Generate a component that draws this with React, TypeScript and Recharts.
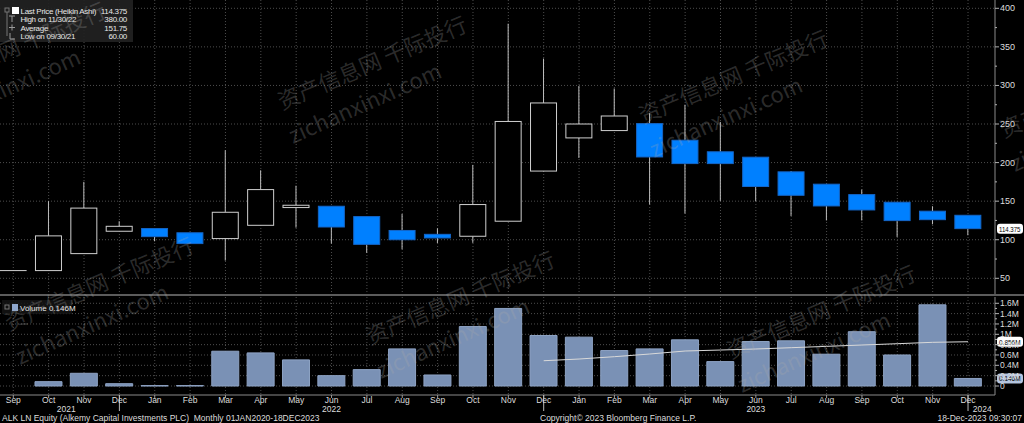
import React from 'react';
import { ComposedChart, Bar, Line, XAxis, YAxis, CartesianGrid, ReferenceLine } from 'recharts';

const FONT = "'Liberation Sans Narrow', 'Liberation Sans', Arial, sans-serif";

// Monthly Heikin Ashi candles, Sep 2021 .. Dec 2023
const months = ['Sep', 'Oct', 'Nov', 'Dec', 'Jan', 'Feb', 'Mar', 'Apr', 'May', 'Jun', 'Jul', 'Aug', 'Sep', 'Oct', 'Nov', 'Dec',
  'Jan', 'Feb', 'Mar', 'Apr', 'May', 'Jun', 'Jul', 'Aug', 'Sep', 'Oct', 'Nov', 'Dec'];
const opens = [60, 60, 82, 111, 114.5, 109, 101.5, 118.7, 141.7, 143.4, 130, 112, 107, 104.5, 124, 189,
  232, 241.5, 250.5, 229, 214, 207, 188, 172, 158.5, 148.6, 137, 131.7];
const closes = [60, 105, 141, 117.4, 104, 95, 135.6, 165, 144.7, 116.5, 94, 100, 102.3, 145.6, 253.3, 277.3,
  250, 260.4, 207.3, 198.7, 198.7, 169, 157.6, 143.8, 138.6, 124.8, 126, 114.375];
const highs = [60, 150, 175, 124, 114.5, 109, 216, 190, 170, 143.4, 130, 133.4, 114.8, 197, 380, 334.8,
  299.4, 296, 264, 275, 252.7, 207, 189, 172.3, 165, 148.6, 143.4, 131.7];
const lows = [60, 60, 82.4, 111.4, 98, 95, 73, 118.7, 115.7, 95, 83, 87.6, 95.8, 96, 124.3, 188.7,
  206, 241.5, 145.6, 134, 150.3, 150, 130.8, 125, 125, 103.6, 120, 105.8];

// volume in millions
const volumes = [0, 0.084, 0.246, 0.045, 0.008, 0.008, 0.673, 0.64, 0.505, 0.2, 0.317, 0.718, 0.213, 1.15, 1.5, 0.977,
  0.945, 0.686, 0.718, 0.893, 0.472, 0.861, 0.874, 0.615, 1.05, 0.6, 1.57, 0.146];
const volumeAvg = [null, null, null, null, null, null, null, null, null, null, null, null, null, null, null, 0.489,
  0.522, 0.567, 0.619, 0.677, 0.696, 0.716, 0.741, 0.767, 0.793, 0.818, 0.845, 0.856];

const priceTicks = [50, 100, 150, 200, 250, 300, 350, 400];
const priceMinor = [75, 125, 175, 225, 275, 325, 375];
const volTicks = [0, 0.2, 0.4, 0.6, 0.8, 1, 1.2, 1.4, 1.6];
const volMinor = [0.1, 0.3, 0.5, 0.7, 0.9, 1.1, 1.3, 1.5];
const yearMarks = [
  { at: 1.5, label: '2021' },
  { at: 9, label: '2022' },
  { at: 21, label: '2023' },
  { at: 27.4, label: '2024' },
];

const X_DOMAIN = [-0.376, 27.763];
const idx = months.map((_, i) => i);

const rows = months.map((m, i) => ({
  i,
  m,
  open: opens[i],
  close: closes[i],
  high: highs[i],
  low: lows[i],
  range: [lows[i], highs[i]],
  vol: volumes[i],
  ma: volumeAvg[i],
}));

const Candle = (props: any) => {
  const { x, y, width, height, payload } = props;
  const { open, close, high, low } = payload;
  const span = high - low;
  const k = span > 0 ? height / span : 0;
  const py = (v: number) => y + (high - v) * k;
  const cx = x + width / 2;
  const top = py(Math.max(open, close));
  const bot = py(Math.min(open, close));
  const up = close >= open;
  return (
    <g>
      {py(high) < top && <line x1={cx} x2={cx} y1={py(high)} y2={top} stroke="#bdbdbd" />}
      {py(low) > bot && <line x1={cx} x2={cx} y1={bot} y2={py(low)} stroke="#bdbdbd" />}
      {bot - top < 1 ? (
        <line x1={x} x2={x + width} y1={top} y2={top} stroke="#cfcfcf" />
      ) : up ? (
        <rect x={x + 0.5} y={top} width={width - 1} height={bot - top} fill="#000" stroke="#cfcfcf" />
      ) : (
        <rect x={x + 0.5} y={top} width={width - 1} height={bot - top} fill="#0080ff" stroke="#1466c8" />
      )}
    </g>
  );
};

const PriceTick = (props: any) => {
  const { x, y, payload } = props;
  const major = payload.value % 50 === 0;
  return (
    <g>
      <line x1={x} x2={x + (major ? 4 : 2)} y1={y} y2={y} stroke="#b0b0b0" />
      {major && (
        <text x={x + 5} y={y + 3} fill="#dddddd" fontSize={9} fontFamily={FONT}>{payload.value}</text>
      )}
    </g>
  );
};

const VolTick = (props: any) => {
  const { x, y, payload } = props;
  const v = payload.value;
  const major = Math.round(v * 10) % 2 === 0;
  const label = v === 0 ? '0' : v === 1 ? '1M' : `${v.toFixed(1)}M`;
  return (
    <g>
      <line x1={x} x2={x + (major ? 4 : 2)} y1={y} y2={y} stroke="#b0b0b0" />
      {major && (
        <text x={x + 5} y={y + 3} fill="#dddddd" fontSize={8.5} fontFamily={FONT}>{label}</text>
      )}
    </g>
  );
};

const MonthTick = (props: any) => {
  const { x, y, payload } = props;
  const m = months[payload.value];
  return (
    <g>
      {m === 'Dec' && <line x1={x} x2={x} y1={y - 3} y2={y + 13} stroke="#bbbbbb" />}
      <text x={x} y={y + 5} textAnchor="middle" fill="#dddddd" fontSize={8.5} fontFamily={FONT}>{m}</text>
    </g>
  );
};

const YearLabel = (props: any) => {
  const { viewBox, text } = props;
  return (
    <text x={viewBox.x} y={viewBox.y + viewBox.height + 17} textAnchor="middle" fill="#dddddd" fontSize={8.5} fontFamily={FONT}>
      {text}
    </text>
  );
};

const Tag = (props: any) => {
  const { viewBox, text, bg } = props;
  const left = viewBox.x + viewBox.width + 2;
  return (
    <g>
      <rect x={left} y={viewBox.y - 5} width={26} height={10} rx={3} fill={bg} />
      <text x={left + 2} y={viewBox.y + 3} fill="#000" fontSize={8} fontFamily={FONT}
        textLength={21.5} lengthAdjust="spacingAndGlyphs">{text}</text>
    </g>
  );
};

const marks = [
  { x: -79, y: 96 }, { x: 282, y: 110 }, { x: 643, y: 124 }, { x: 1004, y: 138 },
  { x: 9, y: 331 }, { x: 370, y: 345 }, { x: 731, y: 359 },
];

const Watermark = () => (
  <svg width={1024} height={423} style={{ position: 'absolute', left: 0, top: 0, pointerEvents: 'none' }}>
    {marks.map((p, k) => (
      <g key={k} fill="rgba(170,170,170,0.26)" fontFamily="'Noto Sans CJK SC', 'Noto Sans', sans-serif" fontSize={22}>
        <text x={p.x} y={p.y} transform={`rotate(-23 ${p.x} ${p.y})`}>资产信息网 千际投行</text>
        <text x={p.x + 11} y={p.y + 34} transform={`rotate(-24 ${p.x + 11} ${p.y + 34})`}>zichanxinxi.com</text>
      </g>
    ))}
  </svg>
);

const Legend = () => (
  <svg width={140} height={46} style={{ position: 'absolute', left: 0, top: 0 }} fontFamily={FONT} fontSize={8} letterSpacing={-0.3}>
    <rect x={0} y={0} width={133} height={42} fill="rgba(34,34,34,0.92)" />
    <rect x={5} y={8} width={4} height={4} fill="none" stroke="#777" />
    <line x1={7} x2={7} y1={12} y2={36} stroke="#777" />
    <rect x={12} y={7} width={7} height={7} fill="#ffffff" />
    <text x={20.5} y={13.5} fill="#e8e8e8">Last Price (Heikin Ashi)</text>
    <text x={127} y={13.5} fill="#e8e8e8" textAnchor="end">114.375</text>
    <line x1={9} x2={15} y1={16} y2={16} stroke="#999" />
    <line x1={12} x2={12} y1={16} y2={22} stroke="#999" />
    <text x={20.5} y={22} fill="#e8e8e8">High on 11/30/22</text>
    <text x={127} y={22} fill="#e8e8e8" textAnchor="end">380.00</text>
    <line x1={9} x2={15} y1={27.5} y2={27.5} stroke="#999" />
    <line x1={12} x2={12} y1={24.5} y2={30.5} stroke="#999" />
    <text x={20.5} y={30.5} fill="#e8e8e8">Average</text>
    <text x={127} y={30.5} fill="#e8e8e8" textAnchor="end">151.75</text>
    <line x1={10} x2={10} y1={33} y2={39} stroke="#999" />
    <line x1={10} x2={15} y1={39} y2={39} stroke="#999" />
    <text x={20.5} y={39} fill="#e8e8e8">Low on 09/30/21</text>
    <text x={127} y={39} fill="#e8e8e8" textAnchor="end">60.00</text>
  </svg>
);

const VolumeLegend = () => (
  <svg width={80} height={16} style={{ position: 'absolute', left: 0, top: 299 }} fontFamily={FONT} fontSize={8}>
    <rect x={2} y={1} width={70} height={14} fill="rgba(20,20,20,0.85)" />
    <rect x={5} y={6} width={4} height={4} fill="none" stroke="#777" />
    <rect x={12} y={5} width={6} height={7} fill="#8ea6cc" />
    <text x={20} y={11.5} fill="#e8e8e8">Volume 0.146M</text>
  </svg>
);

export default function App() {
  return (
    <div style={{ position: 'fixed', left: 0, top: 0, width: 1024, height: 423, background: '#000', overflow: 'hidden' }}>
      <div style={{ position: 'absolute', left: 0, top: 0 }}>
        <ComposedChart width={1024} height={294} data={rows} margin={{ top: 0, right: 0, bottom: 0, left: 0 }}>
          <CartesianGrid stroke="#4d4d4d" strokeDasharray="1 2" verticalValues={idx} horizontalValues={priceTicks} />
          <XAxis type="number" dataKey="i" domain={X_DOMAIN} ticks={idx} hide allowDataOverflow />
          <YAxis
            orientation="right"
            width={29}
            domain={[29.65, 410.76]}
            ticks={[...priceTicks, ...priceMinor]}
            tick={<PriceTick />}
            tickSize={0}
            tickMargin={0}
            tickLine={false}
            axisLine={{ stroke: '#8a8a8a' }}
            allowDataOverflow
            interval={0}
          />
          <Bar dataKey="range" barSize={27} shape={<Candle />} isAnimationActive={false} />
          <ReferenceLine y={closes[closes.length - 1]} stroke="none" label={<Tag text="114.375" bg="#ffffff" />} />
        </ComposedChart>
      </div>
      <div style={{ position: 'absolute', left: 0, top: 294, width: 1024, height: 2, background: '#5c5c5c' }} />
      <div style={{ position: 'absolute', left: 0, top: 297 }}>
        <ComposedChart width={1024} height={126} data={rows} margin={{ top: 0, right: 0, bottom: 0, left: 0 }}>
          <CartesianGrid stroke="#4d4d4d" strokeDasharray="1 2" verticalValues={idx} horizontalValues={volTicks} />
          <XAxis
            type="number"
            dataKey="i"
            domain={X_DOMAIN}
            ticks={idx}
            interval={0}
            height={28}
            tick={<MonthTick />}
            tickSize={3}
            tickMargin={0}
            tickLine={{ stroke: '#999' }}
            axisLine={{ stroke: '#8a8a8a' }}
            allowDataOverflow
          />
          <YAxis
            orientation="right"
            width={29}
            domain={[-0.174, 1.7215]}
            ticks={[...volTicks, ...volMinor]}
            tick={<VolTick />}
            tickSize={0}
            tickMargin={0}
            tickLine={false}
            axisLine={{ stroke: '#8a8a8a' }}
            allowDataOverflow
            interval={0}
          />
          <Bar dataKey="vol" barSize={27} fill="#7a91b5" stroke="#8ea3c4" isAnimationActive={false} />
          <Line dataKey="ma" stroke="#d9d9d9" strokeWidth={1} dot={false} connectNulls={false} isAnimationActive={false} />
          {yearMarks.map((ym) => (
            <ReferenceLine key={ym.label} x={ym.at} stroke="none" label={<YearLabel text={ym.label} />} />
          ))}
          <ReferenceLine y={volumeAvg[volumeAvg.length - 1] as number} stroke="none" label={<Tag text="0.856M" bg="#ffffff" />} />
          <ReferenceLine y={volumes[volumes.length - 1]} stroke="none" label={<Tag text="0.146M" bg="#b4c4de" />} />
        </ComposedChart>
      </div>
      <Legend />
      <VolumeLegend />
      <div style={{ position: 'absolute', left: 2, top: 413, fontFamily: FONT, fontSize: 8.5, color: '#dddddd', whiteSpace: 'pre' }}>
        ALK LN Equity (Alkemy Capital Investments PLC)  Monthly 01JAN2020-18DEC2023
      </div>
      <div style={{ position: 'absolute', left: 540, top: 413, fontFamily: FONT, fontSize: 8.5, color: '#dddddd', whiteSpace: 'pre' }}>
        Copyright© 2023 Bloomberg Finance L.P.
      </div>
      <div style={{ position: 'absolute', right: 2, top: 413, fontFamily: FONT, fontSize: 8.5, color: '#dddddd', whiteSpace: 'pre' }}>
        18-Dec-2023 09:30:07
      </div>
      <Watermark />
    </div>
  );
}
